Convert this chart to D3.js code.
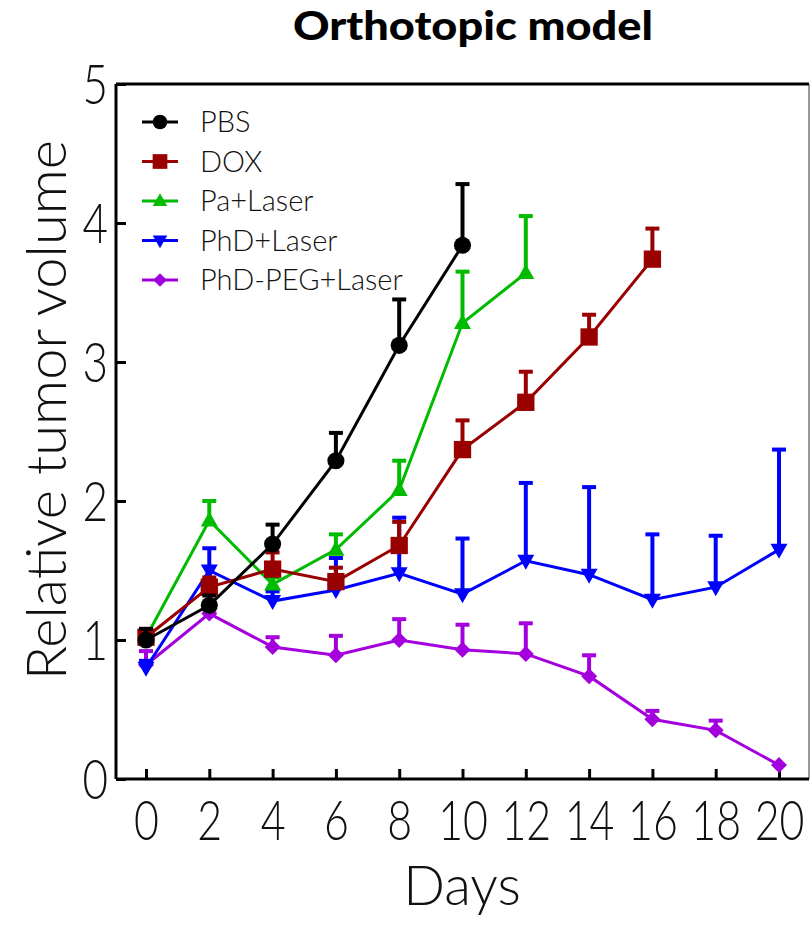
<!DOCTYPE html>
<html lang="en">
<head>
    <meta charset="UTF-8">
    <title>Orthotopic model</title>
    <script src="https://d3js.org/d3.v7.min.js"></script>
    <style>
        body { margin: 0; background: #fff; }
        svg { display: block; }
    </style>
</head>
<body>
    <svg width="811" height="925"></svg>

    <script>
        // Data (upper error bar tops stored as absolute values)
        const days = [0, 2, 4, 6, 8, 10, 12, 14, 16, 18, 20];
        const xTicks = [0, 2, 4, 6, 8, 10, 12, 14, 16, 18, 20];
        const yTicks = [0, 1, 2, 3, 4, 5];

        const pbs      = [1.00, 1.25, 1.69, 2.29, 3.12, 3.84];
        const pbsErr   = [1.08, 1.32, 1.83, 2.49, 3.45, 4.28];
        const dox      = [1.02, 1.38, 1.51, 1.42, 1.68, 2.37, 2.71, 3.18, 3.74];
        const doxErr   = [1.08, 1.45, 1.63, 1.52, 1.85, 2.58, 2.93, 3.34, 3.96];
        const pa       = [1.02, 1.86, 1.40, 1.65, 2.08, 3.28, 3.64];
        const paErr    = [1.06, 2.00, 1.45, 1.76, 2.29, 3.65, 4.05];
        const phd      = [0.80, 1.50, 1.28, 1.36, 1.48, 1.33, 1.57, 1.47, 1.29, 1.38, 1.65];
        const phdErr   = [0.85, 1.66, 1.35, 1.59, 1.88, 1.73, 2.13, 2.10, 1.76, 1.75, 2.37];
        const peg      = [0.82, 1.19, 0.95, 0.89, 1.00, 0.93, 0.90, 0.74, 0.43, 0.35, 0.10];
        const pegErr   = [0.92, 1.22, 1.02, 1.03, 1.15, 1.11, 1.12, 0.89, 0.49, 0.42, 0.10];

        const groups = [
            {name: "PBS", values: pbs, err: pbsErr, color: "#000000", symbol: d3.symbolCircle},
            {name: "DOX", values: dox, err: doxErr, color: "#990000", symbol: d3.symbolSquare},
            {name: "Pa+Laser", values: pa, err: paErr, color: "#00bb00", symbol: "up"},
            {name: "PhD+Laser", values: phd, err: phdErr, color: "#0000ff", symbol: "down"},
            {name: "PhD-PEG+Laser", values: peg, err: pegErr, color: "#a400dd", symbol: "diamond"}
        ];

        const margin = {top: 84, right: 2, bottom: 146, left: 116};
        const width = 811 - margin.left - margin.right;
        const height = 925 - margin.top - margin.bottom;

        const svg = d3.select("svg");
        const g = svg.append("g")
            .attr("transform", `translate(${margin.left},${margin.top})`);

        // day 0 sits 30px in from the axis, day 20 at x = 663
        const x = d3.scaleLinear().domain([0, 20]).range([30, 663]);
        const y = d3.scaleLinear().domain([0, 5]).range([height, 0]);

        const labelFont = "Lato, 'Open Sans', sans-serif";

        // marker shapes
        function markerPath(sym) {
            if (sym === "up") return "M0,-9L8.5,6L-8.5,6Z";
            if (sym === "down") return "M0,9L8.5,-6L-8.5,-6Z";
            if (sym === "diamond") return "M0,-8L8,0L0,8L-8,0Z";
            return d3.symbol().type(sym).size(sym === d3.symbolSquare ? 300 : 230)();
        }

        // frame: thick top, thin right
        g.append("line").attr("x1", 0).attr("x2", width).attr("y1", 0).attr("y2", 0)
            .attr("stroke", "#000").attr("stroke-width", 3);
        g.append("line").attr("x1", width).attr("x2", width).attr("y1", 0).attr("y2", height)
            .attr("stroke", "#333").attr("stroke-width", 1);

        // axes with inward ticks
        const xAxis = g.append("g")
            .attr("transform", `translate(0,${height})`)
            .call(d3.axisBottom(x).tickValues(xTicks).tickFormat(d3.format("d"))
                .tickSizeInner(-10).tickSizeOuter(0).tickPadding(22));
        const yAxis = g.append("g")
            .call(d3.axisLeft(y).tickValues(yTicks).tickFormat(d3.format("d"))
                .tickSizeInner(-10).tickSizeOuter(0).tickPadding(12));

        [xAxis, yAxis].forEach(a => {
            a.select(".domain").attr("stroke", "#000").attr("stroke-width", 3);
            a.selectAll(".tick line").attr("stroke", "#000").attr("stroke-width", 3);
            a.selectAll(".tick text")
                .attr("fill", "#111")
                .style("font-family", labelFont)
                .style("font-weight", 300)
                .style("font-size", "55px");
        });
        xAxis.select(".domain").attr("d", `M0,0H${width}`);
        yAxis.select(".domain").attr("d", `M0,${height}V0`);
        xAxis.selectAll(".tick text").attr("dy", "0.71em").attr("transform", "scale(0.78,1)");
        yAxis.selectAll(".tick text").attr("dy", "0.36em").attr("x", -10)
            .attr("transform", "scale(0.8,1)");

        // series, drawn back to front
        groups.slice().reverse().forEach(s => {
            const pts = s.values.map((v, i) => ({day: days[i], v: v, e: s.err[i]}));
            const line = d3.line().x(d => x(d.day)).y(d => y(d.v));

            g.append("path")
                .datum(pts)
                .attr("d", line)
                .attr("fill", "none")
                .attr("stroke", s.color)
                .attr("stroke-width", 3);

            // upper error bars
            const eb = g.append("g").selectAll("g").data(pts.filter(d => d.e > d.v)).join("g");
            eb.append("line")
                .attr("x1", d => x(d.day)).attr("x2", d => x(d.day))
                .attr("y1", d => y(d.v)).attr("y2", d => y(d.e))
                .attr("stroke", s.color).attr("stroke-width", 4);
            eb.append("line")
                .attr("x1", d => x(d.day) - 7).attr("x2", d => x(d.day) + 7)
                .attr("y1", d => y(d.e)).attr("y2", d => y(d.e))
                .attr("stroke", s.color).attr("stroke-width", 4);

            g.append("g").selectAll("path").data(pts).join("path")
                .attr("d", markerPath(s.symbol))
                .attr("transform", d => `translate(${x(d.day)},${y(d.v)})`)
                .attr("fill", s.color);
        });

        // legend
        const legend = g.append("g").attr("transform", "translate(26,38)");
        groups.forEach((s, i) => {
            const row = legend.append("g").attr("transform", `translate(0,${i * 39.5})`);
            row.append("line").attr("x1", 0).attr("x2", 36).attr("y1", 0).attr("y2", 0)
                .attr("stroke", s.color).attr("stroke-width", 3);
            row.append("path")
                .attr("d", markerPath(s.symbol))
                .attr("transform", "translate(18,0) scale(0.85)")
                .attr("fill", s.color);
            row.append("text")
                .attr("x", 58).attr("y", 0).attr("dy", "0.36em")
                .style("font-family", labelFont)
                .style("font-weight", 300)
                .style("font-size", "29px")
                .attr("fill", "#111")
                .text(s.name);
        });

        // title
        svg.append("text")
            .attr("x", 473).attr("y", 40)
            .attr("text-anchor", "middle")
            .attr("textLength", 360)
            .attr("lengthAdjust", "spacingAndGlyphs")
            .style("font-family", "Lato, 'Open Sans', sans-serif")
            .style("font-weight", 900)
            .style("font-size", "40px")
            .text("Orthotopic model");

        // axis titles
        svg.append("text")
            .attr("x", 462).attr("y", 905)
            .attr("text-anchor", "middle")
            .style("font-family", labelFont)
            .style("font-weight", 300)
            .style("font-size", "55px")
            .attr("fill", "#111")
            .text("Days");

        svg.append("text")
            .attr("transform", "translate(66,410) rotate(-90)")
            .attr("text-anchor", "middle")
            .style("font-family", labelFont)
            .style("font-weight", 300)
            .style("font-size", "56px")
            .attr("fill", "#111")
            .text("Relative tumor volume");
    </script>
</body>
</html>
